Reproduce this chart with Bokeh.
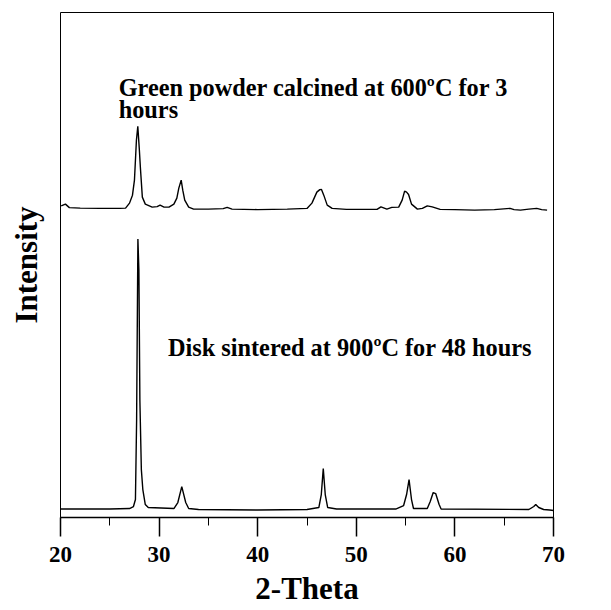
from bokeh.plotting import figure
from bokeh.models import Range1d, SingleIntervalTicker, FixedTicker, Label
from bokeh.embed import file_html
from bokeh.resources import INLINE

# ---- data (intensity in arbitrary units) ----
powder_2theta = [20.07, 20.5, 20.9, 22, 24, 26, 26.6, 27.0, 27.3, 27.5, 27.7, 27.84, 28.0, 28.1,
                 28.3, 28.6, 29.3, 29.8, 30.1, 30.5, 31.0, 31.5, 31.8, 32.0, 32.24, 32.4, 32.6,
                 33.0, 33.5, 35, 36.5, 36.9, 37.4, 40, 43, 45.0, 45.5, 46.0, 46.3, 46.47, 46.7,
                 47.05, 47.55, 49, 52.1, 52.5, 53.1, 53.6, 54.3, 54.65, 54.9, 55.1, 55.3, 55.6,
                 56.2, 56.7, 57.2, 57.7, 58.5, 60, 62, 64, 65.6, 66.0, 66.65, 67.5, 68.3, 68.8, 69.35]
powder_intensity = [312.3, 314, 310.5, 310, 309.7, 309.7, 310, 315, 323, 338, 378, 392, 368, 351,
                    321, 314, 311, 311.5, 313, 311, 311, 314, 320, 330, 338, 328, 318,
                    311, 309, 309, 309.5, 310.7, 309, 308.5, 309, 309.7, 315, 326, 328.5, 328.7, 323,
                    313, 309.7, 308.7, 308.7, 311.3, 309, 310.7, 311, 318, 327, 326, 323.7, 314,
                    309, 309.7, 312.3, 311.3, 308.7, 308.5, 308, 308.5, 309.7, 308.5, 308, 309, 309.7, 308.5, 308]

disk_2theta = [20.0, 25.0, 27.0, 27.4, 27.6, 27.72, 27.85, 27.95, 28.05, 28.2, 28.35, 28.6, 28.9,
               31.5, 31.9, 32.3, 32.7, 33.0, 34, 40, 45, 46.2, 46.45, 46.65, 46.85, 47.1, 48,
               54, 54.8, 55.1, 55.35, 55.6, 55.8, 57.2, 57.5, 57.8, 58.05, 58.4, 58.6,
               67.5, 68.0, 68.2, 68.5, 69, 69.6, 70]
disk_intensity = [8.5, 8.5, 9, 11, 18, 98, 279, 248, 118, 48, 28, 13, 10,
                  9, 15, 31, 15, 9, 8, 7.5, 8, 10, 23, 49, 23, 10, 8.5,
                  8.5, 12, 23, 38, 18, 9, 9, 16, 25, 24, 13, 8.5,
                  8, 11, 13, 10, 8, 7.5, 7]

x_ticks = [20, 30, 40, 50, 60, 70]
label_powder_1 = "Green powder calcined at 600\u00baC for 3"
label_powder_2 = "hours"
label_disk = "Disk sintered at 900\u00baC for 48 hours"

FONT = "Liberation Serif"

p = figure(width=603, height=608, output_backend="svg", toolbar_location=None,
           x_range=Range1d(20, 70), y_range=Range1d(0, 506),
           min_border_left=60, min_border_right=50, min_border_top=12, min_border_bottom=90)

p.line(powder_2theta, powder_intensity, line_color="black", line_width=1.4)
p.line(disk_2theta, disk_intensity, line_color="black", line_width=1.4)

p.grid.visible = False
p.outline_line_color = "black"
p.outline_line_width = 1
p.background_fill_color = "white"
p.border_fill_color = "white"

xa = p.xaxis[0]
xa.ticker = SingleIntervalTicker(interval=10, num_minor_ticks=2)
xa.axis_line_color = "black"
xa.axis_line_width = 1.5
xa.major_tick_out = 19
xa.major_tick_in = 0
xa.minor_tick_out = 8
xa.minor_tick_in = 0
xa.major_tick_line_width = 1.5
xa.minor_tick_line_width = 1
xa.major_label_text_font = FONT
xa.major_label_text_font_style = "bold"
xa.major_label_text_font_size = "23px"
xa.major_label_text_color = "black"
xa.major_label_standoff = 10
xa.axis_label = "2-Theta"
xa.axis_label_text_font = FONT
xa.axis_label_text_font_style = "bold"
xa.axis_label_text_font_size = "31px"
xa.axis_label_text_color = "black"
xa.axis_label_standoff = 6

ya = p.yaxis[0]
ya.ticker = FixedTicker(ticks=[])
ya.axis_line_color = None
ya.major_tick_out = 0
ya.major_tick_in = 0
ya.minor_tick_out = 0
ya.major_label_standoff = 0
ya.axis_label = "Intensity"
ya.axis_label_text_font = FONT
ya.axis_label_text_font_style = "bold"
ya.axis_label_text_font_size = "31px"
ya.axis_label_text_color = "black"
ya.axis_label_standoff = 17

for txt, x, y in [(label_powder_1, 25.9, 431), (label_powder_2, 25.9, 409), (label_disk, 30.9, 170)]:
    p.add_layout(Label(x=x, y=y, text=txt, text_font=FONT, text_font_style="bold",
                       text_font_size="24.3px", text_color="black", text_baseline="alphabetic"))

open("out.html", "w").write(file_html(p, INLINE))
